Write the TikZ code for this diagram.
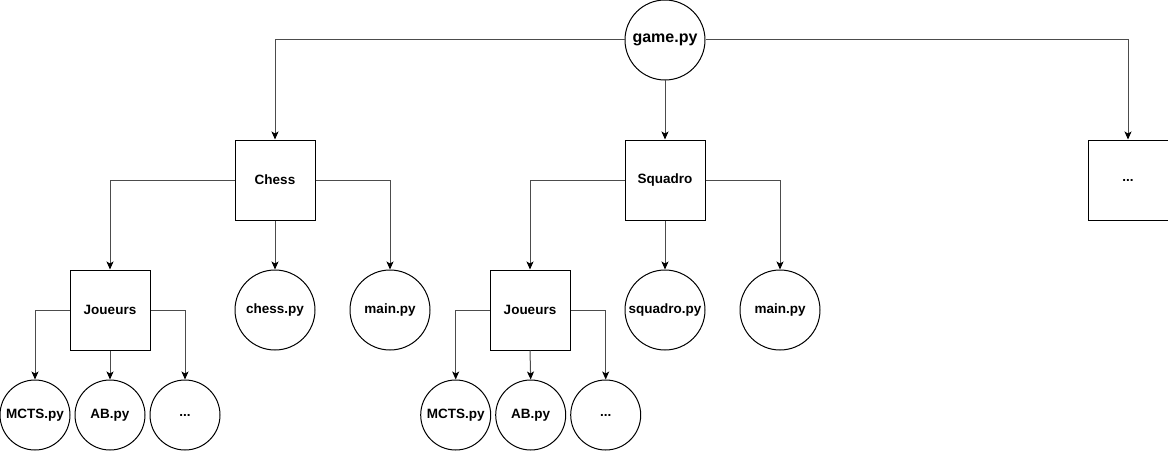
\documentclass[tikz,border=0pt]{standalone}
\usepackage{fontspec}
\setmainfont{Liberation Sans}
\usetikzlibrary{arrows.meta}
\begin{document}
\begin{tikzpicture}
    [x=1pt, y=-1pt,
    font=\fontsize{13.5}{16}\selectfont\bfseries,
    % every node/.style={draw=black, thick},
    file/.style={circle, draw=black, line width=1pt, minimum size=80pt, inner sep=0pt},
    smallfile/.style={file, minimum size=70pt},
    folder/.style={rectangle, draw=black, line width=1pt, minimum size=80pt, inner sep=0pt},
    link/.style={draw=black!70, line width=1pt, -{Stealth[length=8pt, width=7pt, inset=2pt, black]}}]
    \useasboundingbox (0,0) rectangle (1168,452);
    \node[file, font=\fontsize{16}{18}\selectfont\bfseries] (game) at (665,40) {game.py};
    \node[folder] (chess) at (275,180) {Chess};
    \node[folder] (squadro) at (665,180) {Squadro};
    \node[folder] (more) at (1128,180) {...};
    % chess
    \node[folder] (joueursA) at (110,310) {Joueurs};
    \node[file] (chesspy) at (275,310) {chess.py};
    \node[file] (mainA) at (390,310) {main.py};
    \node[smallfile] (mctsA) at (35,415) {MCTS.py};
    \node[smallfile] (abA) at (110,415) {AB.py};
    \node[smallfile] (otherA) at (185,415) {...};
    % squadro
    \node[folder] (joueursB) at (530,310) {Joueurs};
    \node[file] (squadropy) at (665,310) {squadro.py};
    \node[file] (mainB) at (780,310) {main.py};
    \node[smallfile] (mctsB) at (455.7,415) {MCTS.py};
    \node[smallfile] (abB) at (530.7,415) {AB.py};
    \node[smallfile] (otherB) at (605.7,415) {...};
    % connectors
    \draw[link] (game.west) -| (chess.north);
    \draw[link] (game.south) -- (squadro.north);
    \draw[link] (game.east) -| (more.north);
    \draw[link] (chess.west) -| (joueursA.north);
    \draw[link] (chess.south) -- (chesspy.north);
    \draw[link] (chess.east) -| (mainA.north);
    \draw[link] (joueursA.west) -| (mctsA.north);
    \draw[link] (joueursA.south) -- (abA.north);
    \draw[link] (joueursA.east) -| (otherA.north);
    \draw[link] (squadro.west) -| (joueursB.north);
    \draw[link] (squadro.south) -- (squadropy.north);
    \draw[link] (squadro.east) -| (mainB.north);
    \draw[link] (joueursB.west) -| (mctsB.north);
    \draw[link] (joueursB.south) -- (abB.north);
    \draw[link] (joueursB.east) -| (otherB.north);
\end{tikzpicture}
\end{document}
